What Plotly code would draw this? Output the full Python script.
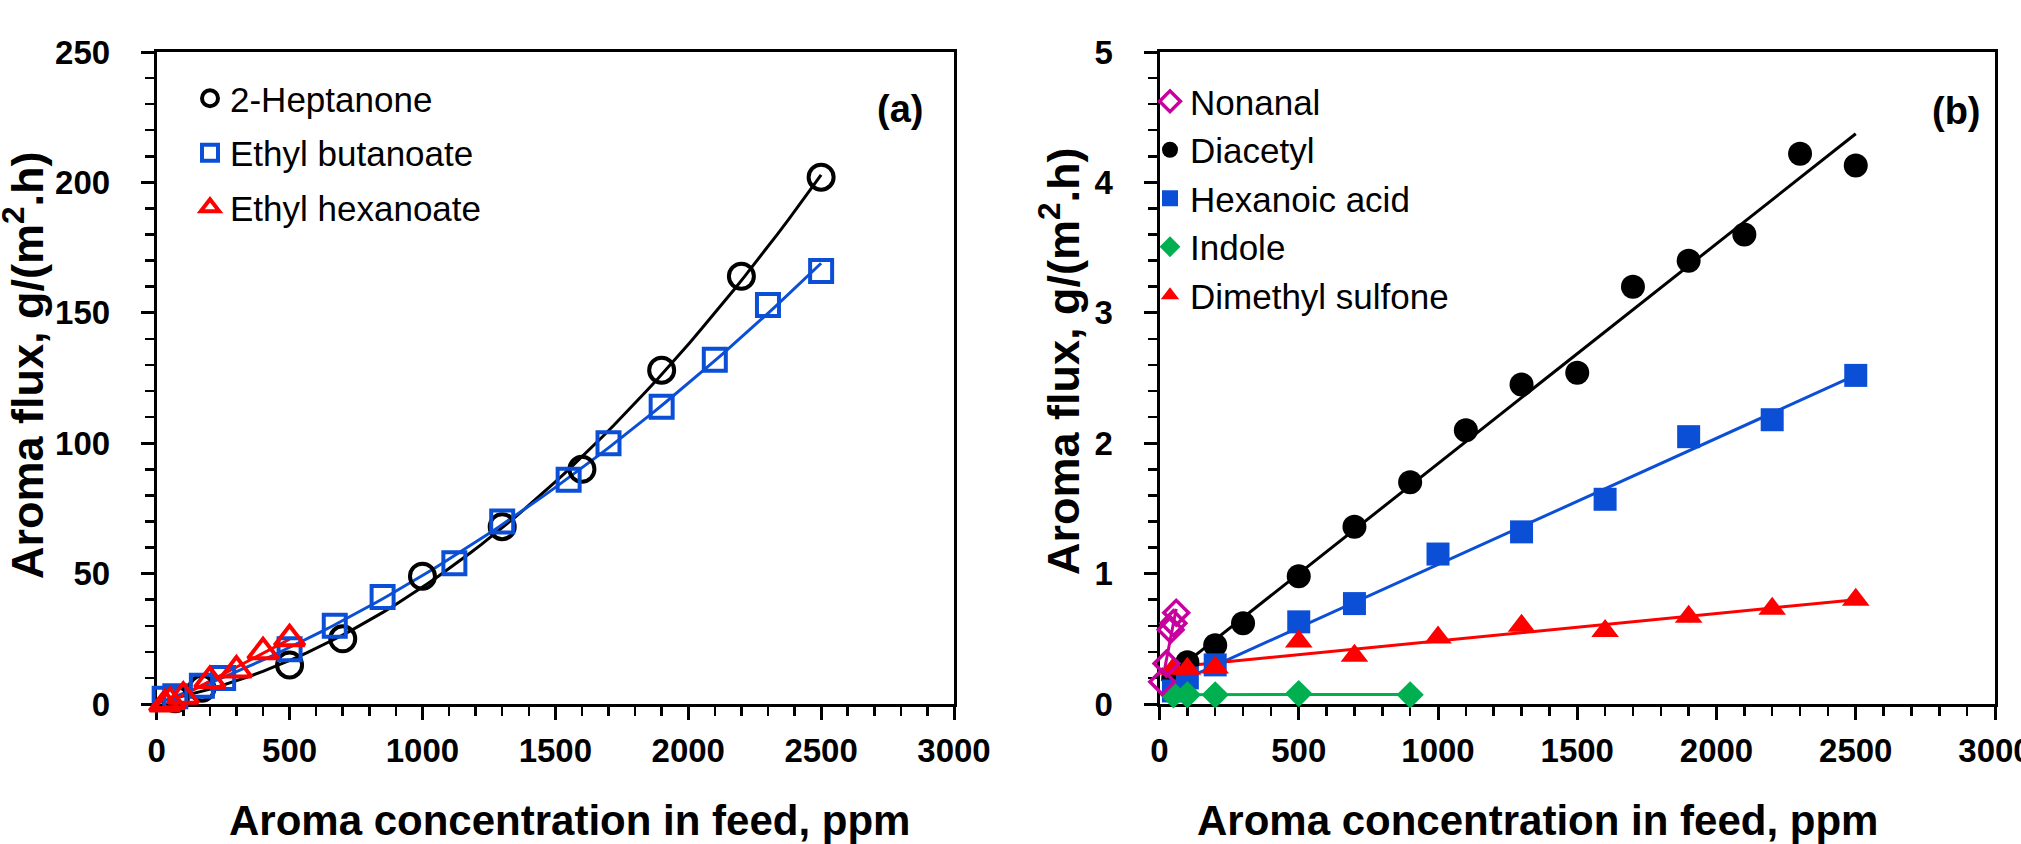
import numpy as np
import plotly.graph_objects as go

# ---------------- Panel (a) data ----------------
hep_x = [70, 170, 500, 700, 1000, 1300, 1600, 1900, 2200, 2500]
hep_y = [2, 6, 15, 25, 49, 68, 90, 128, 164, 202]
eb_x = [30, 70, 170, 250, 500, 670, 850, 1120, 1300, 1550, 1700, 1900, 2100, 2300, 2500]
eb_y = [2, 3, 7, 10, 21, 30, 41, 54, 70, 86, 100, 114, 132, 153, 166]
eh_x = [30, 50, 100, 200, 300, 400, 500]
eh_y = [0, 1, 3, 9, 13, 20, 25]

# ---------------- Panel (b) data ----------------
non_x = [10, 25, 40, 50, 60]
non_y = [0.17, 0.31, 0.57, 0.62, 0.70]
dia_x = [50, 100, 200, 300, 500, 700, 900, 1100, 1300, 1500, 1700, 1900, 2100, 2300, 2500]
dia_y = [0.20, 0.32, 0.45, 0.62, 0.98, 1.36, 1.70, 2.10, 2.45, 2.54, 3.20, 3.40, 3.60, 4.22, 4.13]
hex_x = [50, 100, 200, 500, 700, 1000, 1300, 1600, 1900, 2200, 2500]
hex_y = [0.10, 0.20, 0.30, 0.63, 0.77, 1.15, 1.32, 1.57, 2.05, 2.18, 2.52]
ind_x = [50, 100, 200, 500, 900]
ind_y = [0.07, 0.07, 0.07, 0.08, 0.07]
dms_x = [50, 100, 200, 500, 700, 1000, 1300, 1600, 1900, 2200, 2500]
dms_y = [0.27, 0.27, 0.28, 0.48, 0.37, 0.51, 0.60, 0.56, 0.67, 0.73, 0.80]

x_ticks = [0, 500, 1000, 1500, 2000, 2500, 3000]

BLACK = "#000000"
BLUE = "#0B4FD6"
RED = "#FF0000"
GREEN = "#00B050"
MAGENTA = "#C8009E"
FONT = "Liberation Sans, Arial, sans-serif"

W, H = 2021, 844


def fit(xs, ys, deg, n=60):
    c = np.polyfit(xs, ys, deg)
    xx = np.linspace(min(xs), max(xs), n)
    return xx, np.polyval(c, xx)


fig = go.Figure()

# ---- fits panel (a)
for xs, ys, deg, col in [(hep_x, hep_y, 2, BLACK), (eb_x, eb_y, 2, BLUE), (eh_x, eh_y, 1, RED)]:
    fx, fy = fit(xs, ys, deg)
    fig.add_trace(go.Scatter(x=fx, y=fy, mode="lines", line=dict(color=col, width=3),
                             showlegend=False, hoverinfo="skip", xaxis="x", yaxis="y", cliponaxis=False))

fig.add_trace(go.Scatter(x=hep_x, y=hep_y, mode="markers", name="2-Heptanone",
                         marker=dict(symbol="circle-open", size=25, color=BLACK, line=dict(width=4, color=BLACK)),
                         legend="legend", legendgroup="a1", legendrank=1, xaxis="x", yaxis="y", cliponaxis=False))
fig.add_trace(go.Scatter(x=eb_x, y=eb_y, mode="markers", name="Ethyl butanoate",
                         marker=dict(symbol="square-open", size=22, color=BLUE, line=dict(width=4, color=BLUE)),
                         legend="legend", legendgroup="a2", legendrank=2, xaxis="x", yaxis="y", cliponaxis=False))
fig.add_trace(go.Scatter(x=eh_x, y=eh_y, mode="markers", name="Ethyl hexanoate",
                         marker=dict(symbol="triangle-up-open", size=26, color=RED, line=dict(width=4, color=RED)),
                         legend="legend", legendgroup="a3", legendrank=3, xaxis="x", yaxis="y", cliponaxis=False))

# ---- fits panel (b)
for xs, ys, col in [(dia_x, dia_y, BLACK), (hex_x, hex_y, BLUE), (dms_x, dms_y, RED),
                    (ind_x, ind_y, GREEN), (non_x, non_y, MAGENTA)]:
    fx, fy = fit(xs, ys, 1, n=2)
    fig.add_trace(go.Scatter(x=fx, y=fy, mode="lines", line=dict(color=col, width=3),
                             showlegend=False, hoverinfo="skip", xaxis="x2", yaxis="y2", cliponaxis=False))

fig.add_trace(go.Scatter(x=dia_x, y=dia_y, mode="markers", name="Diacetyl",
                         marker=dict(symbol="circle", size=24, color=BLACK),
                         legend="legend2", legendgroup="b2", legendrank=2, xaxis="x2", yaxis="y2", cliponaxis=False))
fig.add_trace(go.Scatter(x=hex_x, y=hex_y, mode="markers", name="Hexanoic acid",
                         marker=dict(symbol="square", size=23, color=BLUE),
                         legend="legend2", legendgroup="b3", legendrank=3, xaxis="x2", yaxis="y2", cliponaxis=False))
fig.add_trace(go.Scatter(x=dms_x, y=dms_y, mode="markers", name="Dimethyl sulfone",
                         marker=dict(symbol="triangle-up", size=24, color=RED),
                         legend="legend2", legendgroup="b5", legendrank=5, xaxis="x2", yaxis="y2", cliponaxis=False))
fig.add_trace(go.Scatter(x=ind_x, y=ind_y, mode="markers", name="Indole",
                         marker=dict(symbol="diamond", size=21, color=GREEN),
                         legend="legend2", legendgroup="b4", legendrank=4, xaxis="x2", yaxis="y2", cliponaxis=False))
fig.add_trace(go.Scatter(x=non_x, y=non_y, mode="markers", name="Nonanal",
                         marker=dict(symbol="diamond-open", size=19, color=MAGENTA, line=dict(width=3.5, color=MAGENTA)),
                         legend="legend2", legendgroup="b1", legendrank=1, xaxis="x2", yaxis="y2", cliponaxis=False))

tickfont = dict(family=FONT, size=33, color="black", weight="bold")


def xax(domain):
    return dict(domain=domain, range=[0, 3000], tickvals=x_ticks, ticks="outside", ticklen=13, tickwidth=3,
                tickcolor="black", showline=True, linewidth=3, linecolor="black", mirror=True,
                showgrid=False, zeroline=False, tickfont=tickfont, ticklabelstandoff=2,
                ticklabeloverflow="allow",
                minor=dict(dtick=100, ticks="outside", ticklen=9, tickwidth=2.5, tickcolor="black", showgrid=False),
                layer="below traces", fixedrange=True)


def yax(domain, rng, dtick, mdtick, anchor):
    return dict(domain=domain, range=rng, dtick=dtick, tick0=0, ticks="outside", ticklen=13, tickwidth=3,
                tickcolor="black", showline=True, linewidth=3, linecolor="black", mirror=True,
                showgrid=False, zeroline=False, tickfont=tickfont, ticklabelstandoff=24, anchor=anchor,
                ticklabeloverflow="allow",
                minor=dict(dtick=mdtick, tick0=0, ticks="outside", ticklen=9, tickwidth=2.5, tickcolor="black",
                           showgrid=False),
                layer="below traces", fixedrange=True)


ydom = [(H - 704) / H, (H - 52) / H]
xdom1 = [156.7 / W, 954 / W]
xdom2 = [1159.5 / W, 1995 / W]

legfont = dict(family=FONT, size=35, color="black")

fig.update_layout(
    width=W, height=H,
    margin=dict(l=0, r=0, t=0, b=0, autoexpand=False),
    paper_bgcolor="white", plot_bgcolor="white",
    xaxis=xax(xdom1) | dict(anchor="y"),
    yaxis=yax(ydom, [0, 250], 50, 10, "x"),
    xaxis2=xax(xdom2) | dict(anchor="y2"),
    yaxis2=yax(ydom, [0, 5], 1, 0.2, "x2"),
    legend=dict(x=190 / W, y=1 - 69 / H, xanchor="left", yanchor="top", font=legfont,
                bgcolor="rgba(0,0,0,0)", traceorder="grouped", tracegroupgap=6, itemsizing="trace"),
    legend2=dict(x=1150 / W, y=1 - 72 / H, xanchor="left", yanchor="top", font=legfont,
                 bgcolor="rgba(0,0,0,0)", traceorder="grouped", tracegroupgap=0, itemsizing="trace"),
    showlegend=True,
)

ytitle_font = dict(family=FONT, size=45, color="black", weight="bold")
xtitle_font = dict(family=FONT, size=42, color="black", weight="bold")
ann = [
    dict(text="Aroma flux, g/(m<sup>2</sup>.h)", x=24 / W, y=1 - 365 / H, textangle=-90, font=ytitle_font),
    dict(text="Aroma flux, g/(m<sup>2</sup>.h)", x=1060 / W, y=1 - 361 / H, textangle=-90, font=ytitle_font),
    dict(text="Aroma concentration in feed, ppm", x=569 / W, y=1 - 820 / H, textangle=0, font=xtitle_font),
    dict(text="Aroma concentration in feed, ppm", x=1537 / W, y=1 - 820 / H, textangle=0, font=xtitle_font),
]
for a in ann:
    fig.add_annotation(xref="paper", yref="paper", showarrow=False,
                       xanchor="center", yanchor="middle", **a)

lab_font = dict(family=FONT, size=38, color="black", weight="bold")
fig.add_annotation(xref="paper", yref="paper", x=900 / W, y=1 - 109 / H, text="(a)", showarrow=False,
                   font=lab_font, xanchor="center", yanchor="middle")
fig.add_annotation(xref="paper", yref="paper", x=1956 / W, y=1 - 111 / H, text="(b)", showarrow=False,
                   font=lab_font, xanchor="center", yanchor="middle")

fig.write_html("out.html", config={"displayModeBar": False, "staticPlot": True},
               post_script="document.body.style.margin='0';document.body.style.overflow='hidden';")
